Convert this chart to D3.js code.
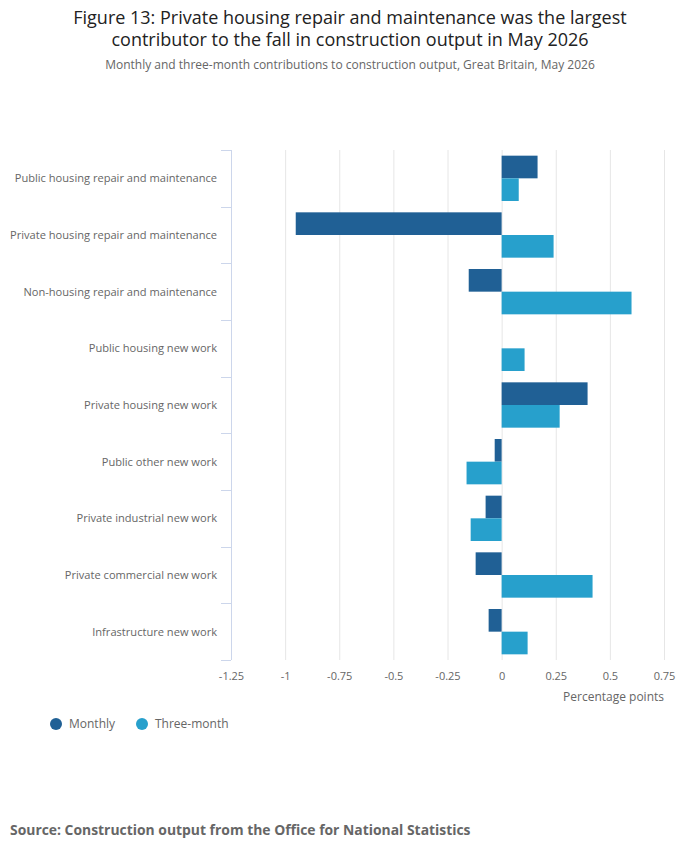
<!DOCTYPE html>
<html>
<head>
<meta charset="utf-8">
<script src="https://cdn.jsdelivr.net/npm/d3@7"></script>
<style>
  body { margin: 0; background: #fff; }
  svg { font-family: "Open Sans", sans-serif; display: block; }
</style>
</head>
<body>
<div id="chart"></div>
<script>
const categories = [
  "Public housing repair and maintenance",
  "Private housing repair and maintenance",
  "Non-housing repair and maintenance",
  "Public housing new work",
  "Private housing new work",
  "Public other new work",
  "Private industrial new work",
  "Private commercial new work",
  "Infrastructure new work"
]
const monthly = [0.166, -0.951, -0.152, 0, 0.397, -0.032, -0.074, -0.12, -0.06]
const threeMonth = [0.079, 0.24, 0.6, 0.106, 0.268, -0.162, -0.143, 0.42, 0.12]
const seriesNames = ["Monthly", "Three-month"]
const xTicks = [-1.25, -1, -0.75, -0.5, -0.25, 0, 0.25, 0.5, 0.75]

const width = 700
const height = 857
const margin = {top: 150, right: 36, bottom: 197, left: 231}
const colors = ["#206095", "#27a0cc"]

const svg = d3.select("#chart").append("svg")
  .attr("width", width)
  .attr("height", height)

// titles
svg.append("text")
  .attr("x", width / 2).attr("y", 24)
  .attr("text-anchor", "middle")
  .attr("font-size", 18).attr("fill", "#222")
  .text("Figure 13: Private housing repair and maintenance was the largest")
svg.append("text")
  .attr("x", width / 2).attr("y", 46)
  .attr("text-anchor", "middle")
  .attr("font-size", 18).attr("fill", "#222")
  .text("contributor to the fall in construction output in May 2026")
svg.append("text")
  .attr("x", width / 2).attr("y", 69)
  .attr("text-anchor", "middle")
  .attr("font-size", 12).attr("fill", "#666")
  .text("Monthly and three-month contributions to construction output, Great Britain, May 2026")

const scaleX = d3.scaleLinear()
  .domain([-1.25, 0.75])
  .range([margin.left, width - margin.right])

const scaleY = d3.scaleBand()
  .domain(categories)
  .range([margin.top, height - margin.bottom])
  .paddingInner(0.2)
  .paddingOuter(0.1)

const scaleSeries = d3.scaleBand()
  .domain(seriesNames)
  .range([0, scaleY.bandwidth()])

const plotBottom = height - margin.bottom

// grid + x axis
const xAxis = svg.append("g")
  .attr("transform", `translate(0,${plotBottom})`)
  .call(d3.axisBottom(scaleX)
    .tickValues(xTicks)
    .tickSize(-(plotBottom - margin.top))
    .tickFormat(d => String(d)))
xAxis.select(".domain").remove()
xAxis.selectAll(".tick line").attr("stroke", "#e6e6e6")
xAxis.selectAll(".tick text")
  .attr("y", 12)
  .attr("fill", "#666")
  .attr("font-size", 11)
  .attr("font-family", "Open Sans, sans-serif")

svg.append("text")
  .attr("x", width - margin.right).attr("y", plotBottom + 41)
  .attr("text-anchor", "end")
  .attr("font-size", 12).attr("fill", "#666")
  .text("Percentage points")

// y axis with ticks at category boundaries
const step = scaleY.step()
const boundaries = categories.map(c => scaleY(c) - step * scaleY.paddingInner() / 2)
boundaries.push(plotBottom)
const yAxis = svg.append("g")
yAxis.append("line")
  .attr("x1", margin.left + 0.5).attr("x2", margin.left + 0.5)
  .attr("y1", margin.top).attr("y2", plotBottom)
  .attr("stroke", "#ccd6eb")
yAxis.selectAll(".ytick")
  .data(boundaries)
  .join("line")
    .attr("class", "ytick")
    .attr("x1", margin.left - 10).attr("x2", margin.left)
    .attr("y1", d => Math.round(d) + 0.5).attr("y2", d => Math.round(d) + 0.5)
    .attr("stroke", "#ccd6eb")
yAxis.selectAll(".ylabel")
  .data(categories)
  .join("text")
    .attr("class", "ylabel")
    .attr("x", margin.left - 14)
    .attr("y", d => scaleY(d) + scaleY.bandwidth() / 2)
    .attr("dy", "0.35em")
    .attr("text-anchor", "end")
    .attr("font-size", 11.1)
    .attr("fill", "#666")
    .text(d => d)

// bars
const rows = categories.map((c, i) => ({category: c, values: [monthly[i], threeMonth[i]]}))
const groups = svg.append("g")
  .selectAll("g")
  .data(rows)
  .join("g")
    .attr("transform", d => `translate(0,${scaleY(d.category)})`)
groups.selectAll("rect")
  .data(d => d.values.map((v, i) => ({series: seriesNames[i], value: v, i})))
  .join("rect")
    .attr("x", d => scaleX(Math.min(0, d.value)))
    .attr("y", d => scaleSeries(d.series))
    .attr("width", d => Math.abs(scaleX(d.value) - scaleX(0)))
    .attr("height", scaleSeries.bandwidth())
    .attr("fill", d => colors[d.i])

// legend
const legendX = [56, 142]
const legend = svg.append("g")
  .selectAll("g")
  .data(seriesNames)
  .join("g")
    .attr("transform", (d, i) => `translate(${legendX[i]},724)`)
legend.append("circle")
  .attr("r", 6)
  .attr("fill", (d, i) => colors[i])
legend.append("text")
  .attr("x", 13)
  .attr("dy", "0.35em")
  .attr("font-size", 12)
  .attr("fill", "#666")
  .text(d => d)

svg.append("text")
  .attr("x", 10).attr("y", 835)
  .attr("font-size", 13.9)
  .attr("font-weight", "bold")
  .attr("fill", "#666")
  .text("Source: Construction output from the Office for National Statistics")
</script>
</body>
</html>
